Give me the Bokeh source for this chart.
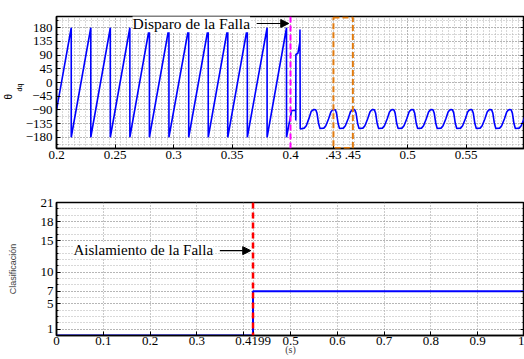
import math
from bokeh.plotting import figure
from bokeh.layouts import column
from bokeh.models import (FixedTicker, Span, BoxAnnotation, Label, Arrow, NormalHead,
                          LinearAxis, CustomJSTickFormatter, Range1d, Title)
from bokeh.embed import file_html
from bokeh.resources import INLINE

# ---------------- data ----------------
# Top panel: theta_dq (degrees) vs time (s)
theta_pre_t = [0.2000, 0.2126, 0.2126, 0.2293, 0.2293, 0.2460, 0.2460, 0.2627, 0.2627,
               0.2794, 0.2794, 0.2961, 0.2961, 0.3130, 0.3130, 0.3297, 0.3297, 0.3464,
               0.3464, 0.3631, 0.3631, 0.3800, 0.3800, 0.3966, 0.3966]
theta_pre_v = [-91, 180, -180, 180, -180, 180, -180, 180, -180,
               180, -180, 180, -180, 180, -180, 180, -180, 180,
               -180, 180, -180, 180, -180, 180, -180]

theta_fault_t = [0.4010, 0.4044, 0.4045, 0.4046, 0.4063, 0.4079, 0.4081, 0.4083,
                 0.4117, 0.4135, 0.4158, 0.4176]
theta_fault_v = [-92, -92, -125, 92, 96, 130, 174, -153,
                 -150, -142, -118, -96]

theta_post_t = [
    0.4190, 0.4202, 0.4216, 0.4226, 0.4240, 0.4252, 0.4285, 0.4302, 0.4325, 0.4345,
    0.4357, 0.4369, 0.4383, 0.4393, 0.4407, 0.4419, 0.4452, 0.4469, 0.4492, 0.4512,
    0.4524, 0.4536, 0.4550, 0.4560, 0.4574, 0.4586, 0.4619, 0.4636, 0.4659, 0.4679,
    0.4691, 0.4703, 0.4717, 0.4727, 0.4741, 0.4753, 0.4786, 0.4803, 0.4826, 0.4846,
    0.4858, 0.4870, 0.4884, 0.4894, 0.4908, 0.4920, 0.4953, 0.4970, 0.4993, 0.5013,
    0.5025, 0.5037, 0.5051, 0.5061, 0.5075, 0.5087, 0.5120, 0.5137, 0.5160, 0.5180,
    0.5192, 0.5204, 0.5218, 0.5228, 0.5242, 0.5254, 0.5287, 0.5304, 0.5327, 0.5347,
    0.5359, 0.5371, 0.5385, 0.5395, 0.5409, 0.5421, 0.5454, 0.5471, 0.5494, 0.5514,
    0.5526, 0.5538, 0.5552, 0.5562, 0.5576, 0.5588, 0.5621, 0.5638, 0.5661, 0.5681,
    0.5693, 0.5705, 0.5719, 0.5729, 0.5743, 0.5755, 0.5788, 0.5805, 0.5828, 0.5848,
    0.5860, 0.5872, 0.5886, 0.5896, 0.5910, 0.5922, 0.5955, 0.5972, 0.5995, 0.6015,
]
theta_post_v = [
    -91, -89, -90, -100, -135, -151, -150, -142, -120, -97,
    -91, -89, -90, -100, -135, -151, -150, -142, -120, -97,
    -91, -89, -90, -100, -135, -151, -150, -142, -120, -97,
    -91, -89, -90, -100, -135, -151, -150, -142, -120, -97,
    -91, -89, -90, -100, -135, -151, -150, -142, -120, -97,
    -91, -89, -90, -100, -135, -151, -150, -142, -120, -97,
    -91, -89, -90, -100, -135, -151, -150, -142, -120, -97,
    -91, -89, -90, -100, -135, -151, -150, -142, -120, -97,
    -91, -89, -90, -100, -135, -151, -150, -142, -120, -97,
    -91, -89, -90, -100, -135, -151, -150, -142, -120, -97,
    -91, -89, -90, -100, -135, -151, -150, -142, -120, -97,
]

theta_t = theta_pre_t + theta_fault_t + theta_post_t
theta_v = theta_pre_v + theta_fault_v + theta_post_v

top_xticks = [0.2, 0.25, 0.3, 0.35, 0.4, 0.4367, 0.4533, 0.5, 0.55]
top_xlabels = ["0.2", "0.25", "0.3", "0.35", "0.4", ".43", ".45", "0.5", "0.55"]
top_yticks = [-180, -135, -90, -45, 0, 45, 90, 135, 180]
top_ylabels = ["\u2212180", "\u2212135", "\u221290", "\u221245", "0", "45", "90", "135", "180"]
fault_time = 0.4
zoom_window = [0.4367, 0.4533]

# Bottom panel: classification vs time
class_t = [0.0, 0.4199, 0.4199, 1.0]
class_v = [0, 0, 7, 7]
isolation_time = 0.4199
bot_xticks = [0.0, 0.1, 0.2, 0.3, 0.4, 0.4199, 0.5, 0.6, 0.7, 0.8, 0.9, 1.0]
bot_xlabels = ["0", "0.1", "0.2", "0.3", "", "0.4199", "0.5", "0.6", "0.7", "0.8", "0.9", "1"]
bot_yticks = [1, 5, 7, 10, 15, 18, 21]

SERIF = "Liberation Serif"
SANS = "Liberation Sans"
GRID = "#959595"


def style_common(p):
    p.outline_line_color = "black"
    p.outline_line_width = 1.5
    p.background_fill_color = "white"
    p.border_fill_color = "white"
    for ax in p.axis:
        ax.axis_line_color = "black"
        ax.axis_line_width = 1.5
        ax.major_tick_in = 4
        ax.major_tick_out = 0
        ax.minor_tick_in = 2
        ax.minor_tick_out = 0
        ax.major_tick_line_color = "black"
        ax.minor_tick_line_color = "black"
        ax.major_label_text_font = SERIF
        ax.major_label_text_font_size = "13px"
        ax.major_label_text_color = "black"
    p.xaxis.minor_tick_line_color = None
    p.xaxis.major_label_standoff = 2
    p.yaxis.major_label_standoff = 4
    for g in (p.xgrid[0], p.ygrid[0]):
        g.grid_line_color = GRID
        g.grid_line_dash = "1 2"
        g.grid_line_width = 1
        g.minor_grid_line_color = "#b0b0b0"
        g.minor_grid_line_dash = "1 2"
        g.minor_grid_line_width = 1


# ---------------- top figure ----------------
p1 = figure(width=524, height=185, x_range=Range1d(0.2, 0.6), y_range=Range1d(-217, 217),
            output_backend="svg", toolbar_location=None,
            min_border_left=56, min_border_right=0, min_border_top=16, min_border_bottom=37)

xt1 = FixedTicker(ticks=top_xticks, minor_ticks=[round(0.2 + 0.005 * i, 4) for i in range(81)])
yt1 = FixedTicker(ticks=top_yticks, minor_ticks=[-225 + 22.5 * i for i in range(21)])
p1.xaxis.ticker = xt1
p1.yaxis.ticker = yt1
p1.xgrid.ticker = xt1
p1.ygrid.ticker = yt1
p1.xaxis.major_label_overrides = dict(zip(top_xticks, top_xlabels))
p1.yaxis.major_label_overrides = dict(zip(top_yticks, top_ylabels))

r1 = LinearAxis(ticker=yt1, formatter=CustomJSTickFormatter(code="return ''"),
                major_label_standoff=0)
p1.add_layout(r1, "right")
style_common(p1)

# y label "θ" with subscript "dq" as two side titles
p1.add_layout(Title(text="dq", align="left", offset=57, standoff=0,
                    text_font=SANS, text_font_size="7px", text_font_style="normal",
                    text_color="black"), "left")
p1.add_layout(Title(text="\u03b8", align="left", offset=49, standoff=0,
                    text_font=SANS, text_font_size="10px", text_font_style="normal",
                    text_color="black"), "left")

p1.line(theta_t, theta_v, line_color="#0000FF", line_width=1.6)

p1.add_layout(Span(location=fault_time, dimension="height", line_color="#FF00FF",
                   line_dash="6 3", line_width=2))
p1.add_layout(BoxAnnotation(left=zoom_window[0], right=zoom_window[1], top=214, bottom=-215,
                            fill_alpha=0, line_alpha=1.0, line_color="#E07B10",
                            line_dash="6 3", line_width=2))
p1.add_layout(Label(x=0.265, y=193, text="Disparo de la Falla", text_font=SERIF,
                    text_font_size="15.5px", text_baseline="middle", text_color="black",
                    background_fill_color="white"))
p1.add_layout(Arrow(end=NormalHead(size=8, fill_color="black", line_color="black"),
                    x_start=0.3711, y_start=194, x_end=0.3985, y_end=194,
                    line_color="black", line_width=1.2))

# ---------------- bottom figure ----------------
p2 = figure(width=524, height=174, x_range=Range1d(0, 1), y_range=Range1d(0, 21),
            output_backend="svg", toolbar_location=None,
            min_border_left=56, min_border_right=0, min_border_top=17, min_border_bottom=24)
xt2 = FixedTicker(ticks=bot_xticks, minor_ticks=[])
yt2 = FixedTicker(ticks=bot_yticks, minor_ticks=list(range(0, 22)))
p2.xaxis.ticker = xt2
p2.yaxis.ticker = yt2
p2.xgrid.ticker = xt2
p2.ygrid.ticker = yt2
p2.xaxis.major_label_overrides = dict(zip(bot_xticks, bot_xlabels))
r2 = LinearAxis(ticker=yt2, formatter=CustomJSTickFormatter(code="return ''"),
                major_label_standoff=0)
p2.add_layout(r2, "right")
style_common(p2)
p2.yaxis[0].axis_label = "Clasificación"
p2.yaxis[0].axis_label_text_font = SANS
p2.yaxis[0].axis_label_text_font_size = "9px"
p2.yaxis[0].axis_label_text_font_style = "normal"
p2.yaxis[0].axis_label_standoff = 20
p2.yaxis.major_label_standoff = 3
p2.xaxis[0].axis_label = "(s)"
p2.xaxis[0].axis_label_text_font = SERIF
p2.xaxis[0].axis_label_text_font_size = "10px"
p2.xaxis[0].axis_label_text_font_style = "normal"
p2.xaxis[0].axis_label_standoff = -4
p2.xaxis[0].major_label_standoff = 1

p2.line(class_t, class_v, line_color="#0000FF", line_width=2)
p2.add_layout(Span(location=isolation_time, dimension="height", line_color="#FF0000",
                   line_dash="6 4", line_width=2.5))
p2.add_layout(Label(x=0.0364, y=13.5, text="Aislamiento de la Falla", text_font=SERIF,
                    text_font_size="15px", text_baseline="middle", text_color="black",
                    background_fill_color="white"))
p2.add_layout(Arrow(end=NormalHead(size=8, fill_color="black", line_color="black"),
                    x_start=0.349, y_start=13.4, x_end=0.415, y_end=13.4,
                    line_color="black", line_width=1.2))

layout = column(p1, p2, spacing=0)
open("out.html", "w").write(file_html(layout, INLINE))
